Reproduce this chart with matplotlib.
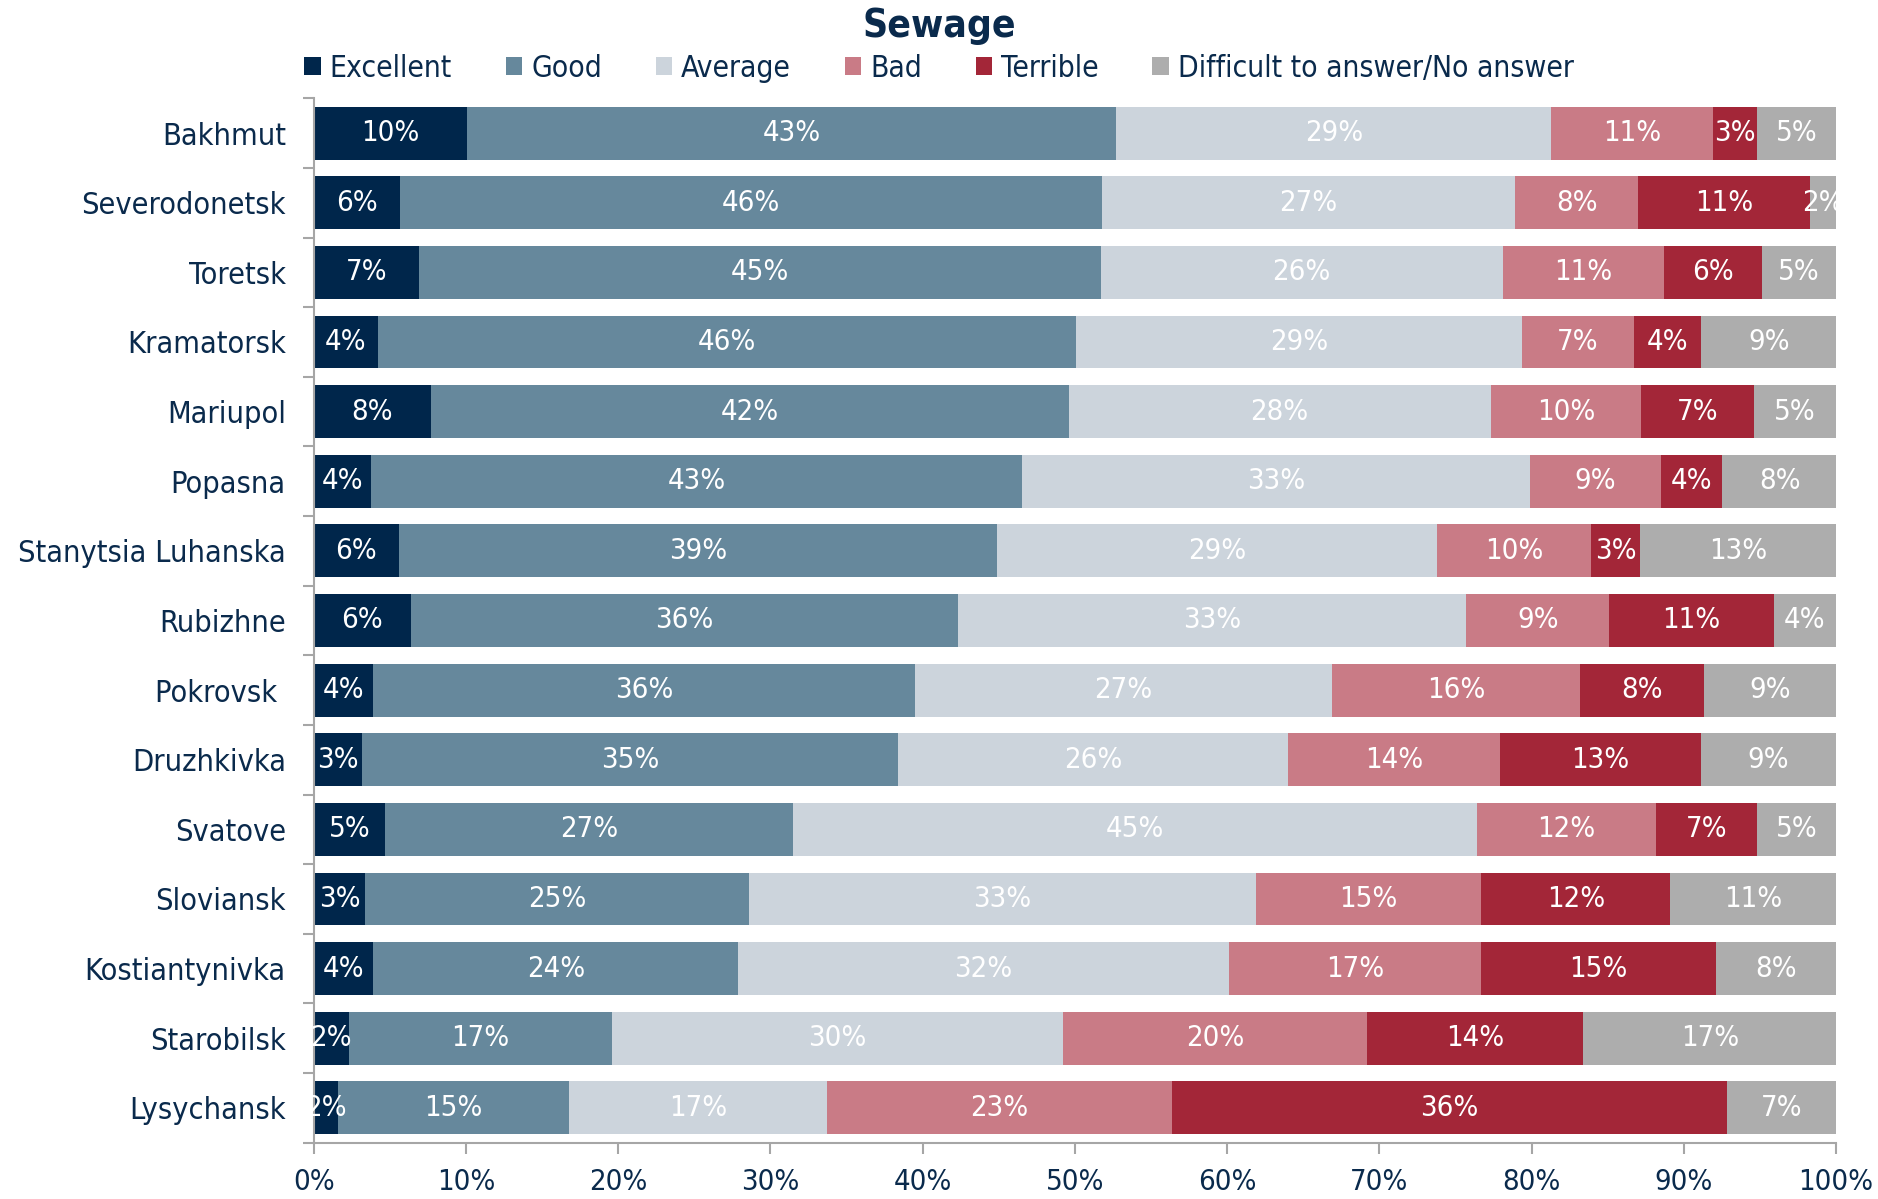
import matplotlib
matplotlib.use("Agg")
import matplotlib.pyplot as plt
import numpy as np

# cities, top to bottom
cities = ["Bakhmut", "Severodonetsk", "Toretsk", "Kramatorsk", "Mariupol", "Popasna",
          "Stanytsia Luhanska", "Rubizhne", "Pokrovsk ", "Druzhkivka", "Svatove",
          "Sloviansk", "Kostiantynivka", "Starobilsk", "Lysychansk"]

# shares in %
excellent = [10.1, 5.7, 6.9, 4.2, 7.7, 3.8, 5.6, 6.4, 3.9, 3.2, 4.7, 3.4, 3.9, 2.3, 1.6]
good      = [42.6, 46.1, 44.8, 45.9, 41.9, 42.7, 39.3, 35.9, 35.6, 35.2, 26.8, 25.2, 24.0, 17.3, 15.2]
average   = [28.6, 27.1, 26.4, 29.3, 27.7, 33.4, 28.9, 33.4, 27.4, 25.6, 44.9, 33.3, 32.2, 29.6, 16.9]
bad       = [10.6, 8.1, 10.6, 7.3, 9.9, 8.6, 10.1, 9.4, 16.3, 13.9, 11.8, 14.8, 16.6, 20.0, 22.7]
terrible  = [2.9, 11.3, 6.4, 4.4, 7.4, 4.0, 3.2, 10.8, 8.1, 13.2, 6.6, 12.4, 15.4, 14.2, 36.4]
no_answer = [5.2, 1.7, 4.9, 9.0, 5.4, 7.6, 12.9, 4.1, 8.7, 8.9, 5.2, 10.9, 7.9, 16.6, 7.2]

series_names = ["Excellent", "Good", "Average", "Bad", "Terrible", "Difficult to answer/No answer"]
colors = ["#00264B", "#66889C", "#CCD4DC", "#C97B86", "#A32638", "#ADADAD"]
navy = "#0A2A4C"

plt.rcParams['font.family'] = ['DejaVu Sans']
plt.rcParams['font.stretch'] = 'condensed'

fig = plt.figure(figsize=(18.78, 11.99), dpi=100)
ax = fig.add_axes([0.167, 0.047, 0.8107, 0.871])

data = [excellent, good, average, bad, terrible, no_answer]
y = np.arange(len(cities))
left = np.zeros(len(cities))
handles = []
for name, vals, c in zip(series_names, data, colors):
    vals = np.array(vals)
    h = ax.barh(y, vals, left=left, height=0.76, color=c, label=name)
    handles.append(h)
    for yi, (l, v) in enumerate(zip(left, vals)):
        ax.text(l + v / 2, yi, "%d%%" % round(v), ha="center", va="center",
                color="white", fontsize=21)
    left = left + vals

ax.set_xlim(0, 100)
ax.set_ylim(len(cities) - 0.5, -0.5)
ax.set_xticks(np.arange(0, 101, 10))
ax.set_xticklabels(["%d%%" % t for t in range(0, 101, 10)])
ax.set_yticks(y)
ax.set_yticklabels(cities)
ax.tick_params(axis="y", length=0, pad=20, labelsize=22, labelcolor=navy)
ax.tick_params(axis="x", length=8, width=1.5, color="#A6A6A6", labelsize=21,
               labelcolor=navy, pad=10)
# tick marks between categories
ax.set_yticks(np.arange(-0.5, len(cities), 1), minor=True)
ax.tick_params(axis="y", which="minor", length=8, width=1.5, color="#A6A6A6")

for s in ["top", "right"]:
    ax.spines[s].set_visible(False)
for s in ["left", "bottom"]:
    ax.spines[s].set_color("#A6A6A6")
    ax.spines[s].set_linewidth(1.5)

fig.text(0.5, 0.978, "Sewage", ha="center", va="center", fontsize=28,
         fontweight="bold", color=navy)
fig.legend(handles=handles, labels=series_names, loc="center", bbox_to_anchor=(0.5, 0.943),
           ncol=6, frameon=False, fontsize=21.5, labelcolor=navy, handlelength=0.55,
           handleheight=0.55, handletextpad=0.3, columnspacing=1.8)

fig.savefig("out.png", dpi=100)
